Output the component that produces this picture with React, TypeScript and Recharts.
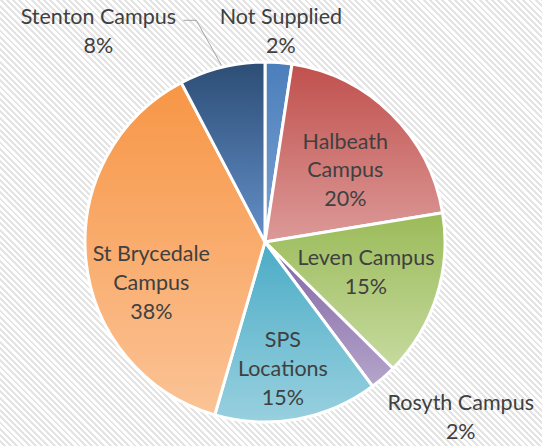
import { PieChart, Pie, Cell } from 'recharts';

const categories = [
  'Not Supplied',
  'Halbeath Campus',
  'Leven Campus',
  'Rosyth Campus',
  'SPS Locations',
  'St Brycedale Campus',
  'Stenton Campus',
];
const shares = [2.4, 20.0, 15.0, 2.4, 14.7, 37.8, 7.7];
// break the name after the first word(s) for labels placed inside the pie
const wrapAfter = [0, 1, 0, 0, 1, 2, 0];

// top / bottom colours of each slice gradient
const topColors = ['#4a7ebb', '#c0504d', '#9bbb59', '#8064a2', '#4bacc6', '#f79646', '#2c4d75'];
const bottomColors = ['#7ea3d3', '#dc9a98', '#c6da9f', '#b5a5cb', '#98d0df', '#fbc396', '#6490c9'];

// label placement: radius factor and angle shift (deg, counter-clockwise) from the slice middle
const labelRadius = [1.176, 0.6, 0.585, 1.46, 0.71, 0.67, 1.495];
const labelShift = [0, -3.4, 1.1, 7.1, -2.2, 13.7, 24.4];

const W = 542;
const H = 446;
const CX = 265;
const CY = 242;
const R = 180;
const RAD = Math.PI / 180;

const data = categories.map((name, i) => ({ name, value: shares[i] }));

const renderLabel = (props: any) => {
  const { cx, cy, midAngle, outerRadius, percent, index } = props;
  const ang = (midAngle + labelShift[index]) * RAD;
  const r = outerRadius * labelRadius[index];
  const x = cx + r * Math.cos(ang);
  const y = cy - r * Math.sin(ang);
  const name = categories[index];
  const words = name.split(' ');
  const lines =
    wrapAfter[index] > 0
      ? [words.slice(0, wrapAfter[index]).join(' '), words.slice(wrapAfter[index]).join(' ')]
      : [name];
  lines.push(`${Math.round(percent * 100)}%`);
  const lh = 28.8;
  const y0 = y - ((lines.length - 1) * lh) / 2;

  let leader = null;
  if (index === 6) {
    const ma = midAngle * RAD;
    const ex = cx + (outerRadius + 2) * Math.cos(ma);
    const ey = cy - (outerRadius + 2) * Math.sin(ma);
    const ly = y0 + 4;
    leader = (
      <polyline
        points={`${x + 85},${ly} ${x + 98},${ly} ${ex},${ey}`}
        fill="none"
        stroke="#a6a6a6"
        strokeWidth={1}
      />
    );
  }

  return (
    <g key={`lbl-${index}`}>
      {leader}
      <text
        x={x}
        y={y0}
        textAnchor="middle"
        fill="#404040"
        fontSize={21.5}
        fontFamily="Lato, 'Open Sans', sans-serif"
      >
        {lines.map((t, k) => (
          <tspan key={k} x={x} y={y0 + k * lh} dy="0.35em">
            {t}
          </tspan>
        ))}
      </text>
    </g>
  );
};

export default function App() {
  return (
    <div
      style={{
        position: 'absolute',
        left: 0,
        top: 0,
        width: W,
        height: H,
        background:
          'repeating-linear-gradient(45deg, #ffffff 0px, #ffffff 2.4px, #e4e4e4 2.4px, #e4e4e4 4.4px)',
      }}
    >
      <PieChart width={W} height={H} margin={{ top: 0, right: 0, bottom: 0, left: 0 }}>
        <defs>
          {topColors.map((c, i) => (
            <linearGradient key={i} id={`slice-${i}`} x1="0" y1="0" x2="0" y2="1">
              <stop offset="0%" stopColor={c} />
              <stop offset="100%" stopColor={bottomColors[i]} />
            </linearGradient>
          ))}
        </defs>
        <Pie
          data={data}
          dataKey="value"
          nameKey="name"
          cx={CX}
          cy={CY}
          outerRadius={R}
          startAngle={90}
          endAngle={-270}
          stroke="#ffffff"
          strokeWidth={3}
          label={renderLabel}
          labelLine={false}
          isAnimationActive={false}
        >
          {data.map((d, i) => (
            <Cell key={d.name} fill={`url(#slice-${i})`} />
          ))}
        </Pie>
      </PieChart>
    </div>
  );
}
